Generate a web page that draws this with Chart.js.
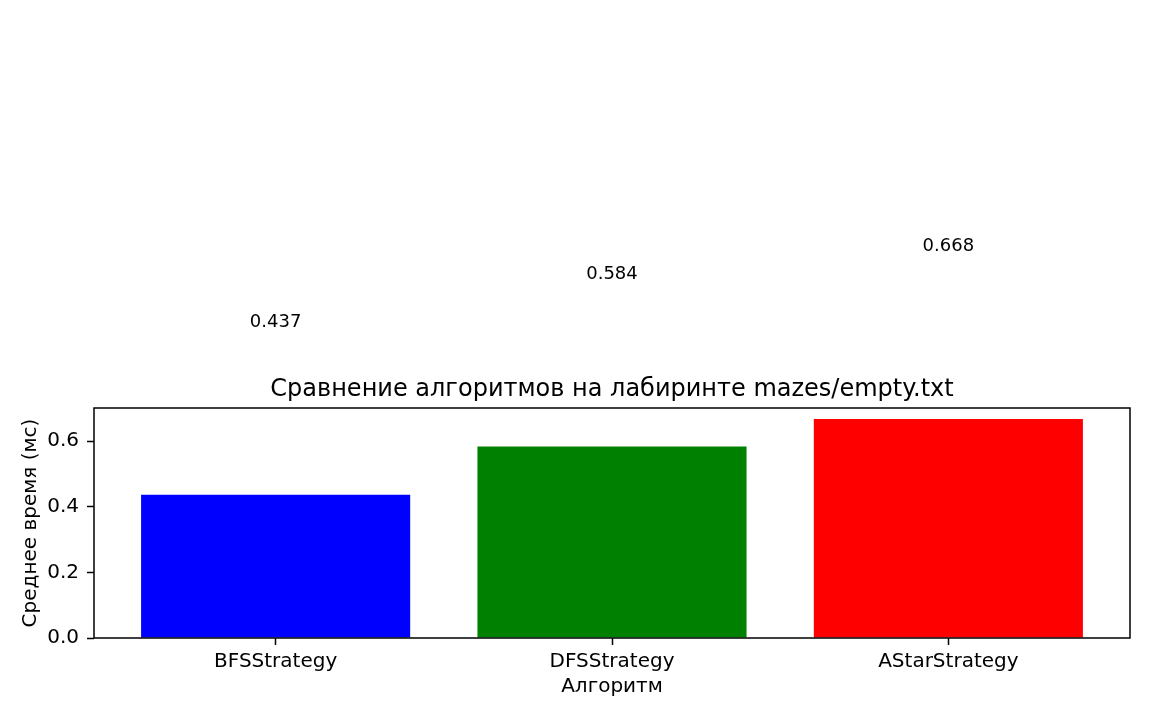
<!DOCTYPE html>
<html>
<head>
<meta charset="utf-8">
<script src="https://cdn.jsdelivr.net/npm/chart.js@4.4.1/dist/chart.umd.min.js"></script>
<style>
  html, body { margin: 0; padding: 0; background: #ffffff; }
  #wrap { width: 1152px; height: 720px; position: relative; }
</style>
</head>
<body>
<div id="wrap"><canvas id="chart"></canvas></div>
<script>
// ---- data ----
const categories = ['BFSStrategy', 'DFSStrategy', 'AStarStrategy'];
const avgTimes = [0.437, 0.584, 0.668];
const barColors = ['#0000ff', '#008000', '#ff0000'];
const yTicks = [0.0, 0.2, 0.4, 0.6];
const valueLabels = ['0.437', '0.584', '0.668'];
const chartTitle = 'Сравнение алгоритмов на лабиринте mazes/empty.txt';
const xAxisTitle = 'Алгоритм';
const yAxisTitle = 'Среднее время (мс)';

const FONT = "'DejaVu Sans', sans-serif";
const LABEL_OFFSET = 0.526; // data-unit offset of value labels above bar tops

const frameAndText = {
  id: 'frameAndText',
  afterDatasetsDraw(chart) {
    const { ctx, chartArea: a, scales } = chart;
    ctx.save();
    // frame (all four spines)
    ctx.strokeStyle = '#000000';
    ctx.lineWidth = 1.5;
    ctx.strokeRect(a.left, a.top, a.right - a.left, a.bottom - a.top);
    // value labels
    ctx.fillStyle = '#000000';
    ctx.font = '18px ' + FONT;
    ctx.textAlign = 'center';
    ctx.textBaseline = 'middle';
    avgTimes.forEach((v, i) => {
      const x = scales.x.getPixelForValue(i);
      const y = scales.y.getPixelForValue(v + LABEL_OFFSET);
      ctx.fillText(valueLabels[i], x, y);
    });
    // title
    ctx.font = '24px ' + FONT;
    ctx.fillText(chartTitle, (a.left + a.right) / 2, a.top - 18.5);
    ctx.restore();
  }
};

const ctx = document.getElementById('chart').getContext('2d');
new Chart(ctx, {
  type: 'bar',
  data: {
    datasets: [{
      data: categories.map((c, i) => ({ x: i, y: avgTimes[i] })),
      backgroundColor: barColors,
      borderWidth: 0,
      barPercentage: 0.8,
      categoryPercentage: 1.0
    }]
  },
  options: {
    responsive: true,
    maintainAspectRatio: false,
    animation: false,
    devicePixelRatio: 1,
    layout: { padding: { top: 408, left: 0, right: 22, bottom: 0 } },
    plugins: {
      legend: { display: false },
      tooltip: { enabled: false },
      title: { display: false }
    },
    scales: {
      x: {
        type: 'linear',
        offset: false,
        min: -0.54,
        max: categories.length - 1 + 0.54,
        afterBuildTicks: (scale) => { scale.ticks = categories.map((c, i) => ({ value: i })); },
        afterFit: (scale) => { scale.height = 82; },
        grid: { display: true, offset: false, drawOnChartArea: false, drawTicks: true, tickLength: 7, tickColor: '#000000', tickWidth: 1.5 },
        border: { display: false },
        ticks: {
          color: '#000000',
          font: { family: FONT, size: 20 },
          padding: 5,
          maxRotation: 0,
          autoSkip: false,
          callback: (value) => categories[value]
        },
        title: {
          display: true,
          text: xAxisTitle,
          color: '#000000',
          font: { family: FONT, size: 20 },
          padding: { top: 0, bottom: 21 }
        }
      },
      y: {
        type: 'linear',
        min: 0,
        max: Math.max(...avgTimes) * 1.05,
        afterBuildTicks: (scale) => { scale.ticks = yTicks.map(v => ({ value: v })); },
        afterFit: (scale) => { scale.width = 94; },
        grid: { display: true, drawOnChartArea: false, drawTicks: true, tickLength: 7, tickColor: '#000000', tickWidth: 1.5 },
        border: { display: false },
        ticks: {
          color: '#000000',
          font: { family: FONT, size: 20 },
          padding: 8,
          callback: (value) => Number(value).toFixed(1)
        },
        title: {
          display: true,
          text: yAxisTitle,
          color: '#000000',
          font: { family: FONT, size: 20 },
          padding: { top: 19, bottom: 0 }
        }
      }
    }
  },
  plugins: [frameAndText]
});
</script>
</body>
</html>
